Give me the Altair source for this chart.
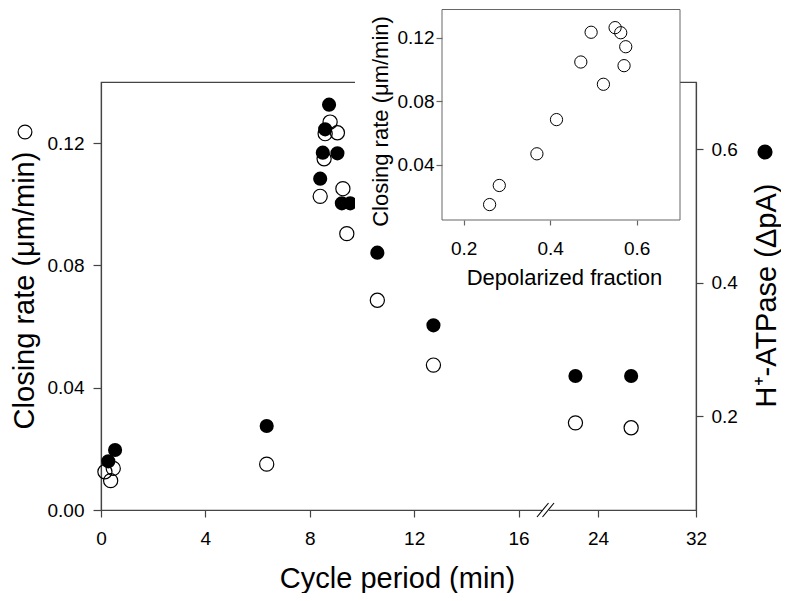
import altair as alt
import pandas as pd

# ---------------- data ----------------
open_period = [0.15, 0.47, 0.37, 6.35, 8.78, 9.06, 8.59, 8.55, 8.40, 9.27, 9.42, 10.59, 12.74, 22.15, 26.7]
open_rate = [0.0125, 0.0136, 0.0096, 0.0150, 0.1269, 0.1234, 0.1231, 0.1149, 0.1026, 0.1051, 0.0904,
             0.0686, 0.0474, 0.0285, 0.0269]

filled_period = [0.28, 0.54, 6.35, 8.74, 8.59, 8.50, 9.06, 8.40, 9.23, 9.55, 10.59, 12.74, 22.15, 26.7]
filled_atpase = [0.132, 0.149, 0.185, 0.667, 0.630, 0.595, 0.594, 0.556, 0.519, 0.519, 0.445, 0.336, 0.260, 0.260]

inset_fraction = [0.26, 0.2824, 0.3693, 0.4146, 0.4708, 0.4946, 0.523, 0.55, 0.563, 0.5707, 0.5746]
inset_rate = [0.0151, 0.0271, 0.0470, 0.0685, 0.1047, 0.1234, 0.0907, 0.1263, 0.1231, 0.1024, 0.1143]

x_tick_labels = [0, 4, 8, 12, 16, 24, 32]
left_ticks = [0.0, 0.04, 0.08, 0.12]
right_ticks = [0.2, 0.4, 0.6]
inset_x_ticks = [0.2, 0.4, 0.6]
inset_y_ticks = [0.04, 0.08, 0.12]

# ---------------- broken x axis ----------------
BREAK, SEG2_START, K = 18, 19.05, 0.469


def compress(v):
    return v if v <= BREAK else SEG2_START + (v - 24) * K


x_tick_pos = [compress(v) for v in x_tick_labels]
x_max = compress(32)
calc_expr = f"datum.period <= {BREAK} ? datum.period : {SEG2_START} + (datum.period - 24) * {K}"
label_expr = (f"datum.value > {BREAK} ? format(24 + (datum.value - {SEG2_START}) / {K}, '.0f') "
              f": format(datum.value, '.0f')")

FONT = "Liberation Sans"
W, H = 595, 428
AX = "#444"

df_open = pd.DataFrame({"period": open_period, "rate": open_rate})
df_filled = pd.DataFrame({"period": filled_period, "atpase": filled_atpase})
df_inset = pd.DataFrame({"fraction": inset_fraction, "rate": inset_rate})
one = pd.DataFrame({"k": [0]})

x_scale = alt.Scale(domain=[0, x_max], nice=False, zero=False)

open_layer = alt.Chart(df_open).transform_calculate(xs=calc_expr).mark_point(
    shape="circle", filled=False, color="black", size=200, strokeWidth=1.2, opacity=1
).encode(
    x=alt.X("xs:Q", scale=x_scale,
            axis=alt.Axis(values=x_tick_pos, labelExpr=label_expr, title="Cycle period (min)",
                          titleX=296, titleY=77, titleBaseline="alphabetic", titleAlign="center",
                          tickSize=7, labelPadding=12, labelFlush=False, labelOverlap=False)),
    y=alt.Y("rate:Q", scale=alt.Scale(domain=[0, 0.14], nice=False, zero=False),
            axis=alt.Axis(values=left_ticks, format=".2f", title="Closing rate (μm/min)",
                          titleAngle=270, titleX=-68, titleY=208, titleAlign="center",
                          titleBaseline="alphabetic", tickSize=8, labelPadding=9)),
)

filled_layer = alt.Chart(df_filled).transform_calculate(xs=calc_expr).mark_circle(
    color="black", size=200, opacity=1
).encode(
    x=alt.X("xs:Q", scale=x_scale, axis=None),
    y=alt.Y("atpase:Q", scale=alt.Scale(domain=[0.059, 0.701], nice=False, zero=False),
            axis=alt.Axis(orient="right", values=right_ticks, format=".1f", title="H⁺-ATPase (ΔpA)",
                          titleAngle=270, titleX=79, titleY=213, titleAlign="center",
                          titleBaseline="alphabetic", tickSize=7, labelPadding=8)),
)

# axis-break decoration
break_gap = alt.Chart(one).mark_rule(color="white", strokeWidth=4).encode(
    x=alt.value(441), x2=alt.value(448), y=alt.value(H), y2=alt.value(H))
break1 = alt.Chart(one).mark_rule(color="black", strokeWidth=1.1).encode(
    x=alt.value(436), x2=alt.value(447.5), y=alt.value(H + 7), y2=alt.value(H - 7))
break2 = alt.Chart(one).mark_rule(color="black", strokeWidth=1.1).encode(
    x=alt.value(441.5), x2=alt.value(453), y=alt.value(H + 7), y2=alt.value(H - 7))

# symbol keys next to the axis titles
key_open = alt.Chart(one).mark_point(shape="circle", filled=False, color="black", size=190,
                                     strokeWidth=1.2, opacity=1).encode(
    x=alt.value(-76), y=alt.value(50))
key_filled = alt.Chart(one).mark_circle(color="black", size=230, opacity=1).encode(
    x=alt.value(664), y=alt.value(70))

# inset
ix_scale = alt.Scale(domain=[0.15, 0.70], range=[341, 579], nice=False, zero=False)
iy_scale = alt.Scale(domain=[0.0054, 0.1377], range=[138, -72.5], nice=False, zero=False)

cover = alt.Chart(one).mark_rect(color="white").encode(
    x=alt.value(254), x2=alt.value(341), y=alt.value(-74), y2=alt.value(138))

frame = alt.Chart(one).mark_rect(fill="white", stroke="#666", strokeWidth=1).encode(
    x=alt.X(datum=0.15, type="quantitative", scale=ix_scale, axis=None),
    x2=alt.X2(datum=0.70),
    y=alt.Y(datum=0.0054, type="quantitative", scale=iy_scale, axis=None),
    y2=alt.Y2(datum=0.1377),
)

inset_pts = alt.Chart(df_inset).mark_point(
    shape="circle", filled=False, color="black", size=150, strokeWidth=1, opacity=1
).encode(
    x=alt.X("fraction:Q", scale=ix_scale,
            axis=alt.Axis(orient="bottom", offset=-(H - 138), values=inset_x_ticks, format=".1f",
                          domain=False, tickSize=5, labelPadding=14, labelFlush=False,
                          title="Depolarized fraction", titleFontSize=22, titleX=463, titleY=64,
                          titleBaseline="alphabetic", titleAlign="center", zindex=1,
                          tickColor="#666")),
    y=alt.Y("rate:Q", scale=iy_scale,
            axis=alt.Axis(orient="left", offset=-341, values=inset_y_ticks, format=".2f",
                          domain=False, tickSize=6, labelPadding=2,
                          title="Closing rate (μm/min)", titleFontSize=22, titleAngle=270,
                          titleX=-55, titleY=39, titleAlign="center", titleBaseline="alphabetic",
                          zindex=1, tickColor="#666")),
)

chart = alt.layer(
    open_layer, filled_layer, break_gap, break1, break2, key_open, key_filled, cover, frame, inset_pts
).resolve_scale(x="independent", y="independent").properties(
    width=W, height=H,
    autosize=alt.AutoSizeParams(type="none"),
    padding={"left": 93, "top": 74, "right": 85, "bottom": 83},
).configure_axis(
    labelFont=FONT, titleFont=FONT, labelFontSize=19, titleFontSize=29, labelColor="black",
    titleColor="black", titleFontWeight="normal", domainColor=AX, tickColor=AX, grid=False,
    domainWidth=1.2, tickWidth=1.2,
).configure_view(stroke=AX, strokeWidth=1.2)

chart.save("out.html", embed_options={"renderer": "svg", "actions": False})
